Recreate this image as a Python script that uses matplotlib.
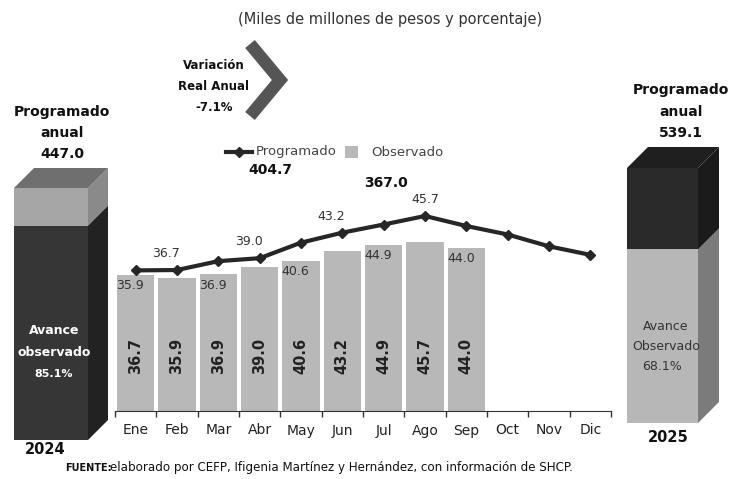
import numpy as np
import matplotlib.pyplot as plt
from matplotlib.patches import Polygon, Rectangle

plt.rcParams['font.family'] = ['DejaVu Sans']

# data
meses = ['Ene', 'Feb', 'Mar', 'Abr', 'May', 'Jun', 'Jul', 'Ago', 'Sep', 'Oct', 'Nov', 'Dic']
observado = [36.7, 35.9, 36.9, 39.0, 40.6, 43.2, 44.9, 45.7, 44.0]
programado = [38.0, 38.1, 40.5, 41.3, 45.5, 48.2, 50.4, 52.7, 50.0, 47.7, 44.5, 42.2]
# labels printed near the line (month index, text) and near the bar tops
etiq_linea = [(1, '36.7'), (3, '39.0'), (5, '43.2'), (7, '45.7')]
etiq_barra = [(0, '35.9'), (2, '36.9'), (4, '40.6'), (6, '44.9'), (8, '44.0')]
total_prog_mes = 404.7
total_obs = 367.0
prog_anual_2024 = 447.0
avance_2024 = 85.1
prog_anual_2025 = 539.1
avance_2025 = 68.1
variacion = -7.1

W, H = 738, 479
fig = plt.figure(figsize=(W / 100, H / 100), dpi=100)

# main monthly chart
x0, x1, ybase, ytop = 115, 611, 411, 140
ax = fig.add_axes([x0 / W, (H - ybase) / H, (x1 - x0) / W, (ybase - ytop) / H])
x = np.arange(len(meses))
ax.bar(x[:len(observado)], observado, width=0.9, color='#b8b8b8', zorder=1)
ax.plot(x, programado, color='#262626', lw=3, marker='D', ms=5, zorder=3)
ax.set_xlim(-0.5, 11.5)
ax.set_ylim(0, (ybase - ytop) / 3.7)
ax.set_xticks(x)
ax.set_xticklabels(meses, fontsize=10, color='#222222')
ax.set_xticks(np.arange(-0.5, 12, 1), minor=True)
ax.tick_params(axis='x', which='major', length=0, pad=9)
ax.tick_params(axis='x', which='minor', length=4, width=1, color='#333333')
ax.set_yticks([])
for s in ['top', 'left', 'right']:
    ax.spines[s].set_visible(False)
ax.spines['bottom'].set_color('#333333')
ax.patch.set_alpha(0)

for i, v in enumerate(observado):
    ax.text(i, 15, '%.1f' % v, rotation=90, ha='center', va='center',
            fontsize=10.5, fontweight='bold', color='#222222')
for i, t in etiq_linea:
    ax.annotate(t, (i, programado[i]), xytext=(-8 if i < 7 else 0, 7),
                textcoords='offset points', ha='center', va='bottom',
                fontsize=9, color='#333333')
for i, t in etiq_barra:
    ax.annotate(t, (i, observado[i]), xytext=(-4, -3), textcoords='offset points',
                ha='center', va='top', fontsize=9, color='#333333')

# overlay in pixel coordinates
ov = fig.add_axes([0, 0, 1, 1])
ov.set_xlim(0, W)
ov.set_ylim(H, 0)
ov.axis('off')
ov.patch.set_alpha(0)


def caja(xl, xr, ytop_f, ybot, dep, frac_bajo, c_bajo, c_alto, s_bajo, s_alto, c_tapa):
    ysplit = ybot - (ybot - ytop_f) * frac_bajo
    ov.add_patch(Rectangle((xl, ysplit), xr - xl, ybot - ysplit, color=c_bajo, lw=0))
    ov.add_patch(Rectangle((xl, ytop_f), xr - xl, ysplit - ytop_f, color=c_alto, lw=0))
    ov.add_patch(Polygon([(xr, ysplit), (xr + dep, ysplit - dep), (xr + dep, ybot - dep), (xr, ybot)],
                         color=s_bajo, lw=0))
    ov.add_patch(Polygon([(xr, ytop_f), (xr + dep, ytop_f - dep), (xr + dep, ysplit - dep), (xr, ysplit)],
                         color=s_alto, lw=0))
    ov.add_patch(Polygon([(xl, ytop_f), (xl + dep, ytop_f - dep), (xr + dep, ytop_f - dep), (xr, ytop_f)],
                         color=c_tapa, lw=0))


caja(14, 88, 188, 440, 20, avance_2024 / 100, '#363636', '#a6a6a6', '#222222', '#8a8a8a', '#6f6f6f')
caja(627, 698, 168, 423, 21, avance_2025 / 100, '#b7b7b7', '#2a2a2a', '#7b7b7b', '#1b1b1b', '#1f1f1f')

bold = dict(fontweight='bold', ha='center', va='center', color='#111111')
ov.text(62, 112, 'Programado', fontsize=10, **bold)
ov.text(62, 133, 'anual', fontsize=10, **bold)
ov.text(62, 154, '%.1f' % prog_anual_2024, fontsize=10, **bold)
ov.text(681, 90, 'Programado', fontsize=10, **bold)
ov.text(681, 112, 'anual', fontsize=10, **bold)
ov.text(681, 133, '%.1f' % prog_anual_2025, fontsize=10, **bold)
ov.text(45, 450, '2024', fontsize=10.5, **bold)
ov.text(668, 437, '2025', fontsize=10.5, **bold)

ov.text(54, 330, 'Avance', fontsize=9, fontweight='bold', ha='center', va='center', color='white')
ov.text(54, 352, 'observado', fontsize=9, fontweight='bold', ha='center', va='center', color='white')
ov.text(54, 374, '%.1f%%' % avance_2024, fontsize=8, fontweight='bold', ha='center', va='center', color='white')
ov.text(666, 327, 'Avance', fontsize=9, ha='center', va='center', color='#333333')
ov.text(666, 347, 'Observado', fontsize=9, ha='center', va='center', color='#333333')
ov.text(662, 367, '%.1f%%' % avance_2025, fontsize=9, ha='center', va='center', color='#333333')

ov.text(390, 19, '(Miles de millones de pesos y porcentaje)', fontsize=10.5,
        ha='center', va='center', color='#333333')

# variacion real anual
ov.text(214, 65, 'Variación', fontsize=8.5, **bold)
ov.text(214, 86, 'Real Anual', fontsize=8.5, **bold)
ov.text(214, 107, '%.1f%%' % variacion, fontsize=8.5, **bold)
ov.plot([250, 280, 250], [44, 80, 116], color='#555555', lw=9, solid_joinstyle='miter',
        solid_capstyle='butt')

# legend
ov.plot([226, 252], [152, 152], color='#262626', lw=3)
ov.plot([239], [152], marker='D', ms=5, color='#262626')
ov.text(256, 152, 'Programado', fontsize=9.5, va='center', color='#444444')
ov.add_patch(Rectangle((345, 146), 13, 12, color='#b8b8b8', lw=0))
ov.text(371, 152, 'Observado', fontsize=9.5, va='center', color='#444444')
ov.text(270, 170, '%.1f' % total_prog_mes, fontsize=10, **bold)
ov.text(386, 183, '%.1f' % total_obs, fontsize=10, **bold)

ov.text(65, 468, 'FUENTE:', fontsize=7, fontweight='bold', va='center', color='#111111')
ov.text(110, 468, 'elaborado por CEFP, Ifigenia Martínez y Hernández, con información de SHCP.',
        fontsize=8.6, va='center', color='#111111')

fig.savefig('out.png', dpi=100)
